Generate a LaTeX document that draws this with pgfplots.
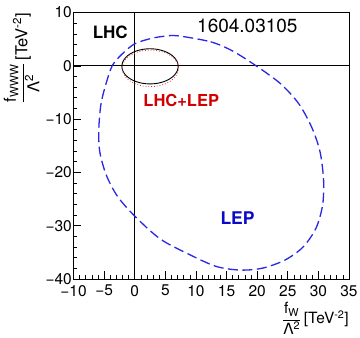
\documentclass[border=0pt]{standalone}
\usepackage{pgfplots}
\pgfplotsset{compat=1.18}
\usepackage{fontspec}
\setmainfont{TeX Gyre Heros}
\definecolor{lepblue}{RGB}{40,40,228}
\definecolor{leptext}{RGB}{10,10,200}
\definecolor{combred}{RGB}{210,0,0}
\begin{document}
\begin{tikzpicture}[x=1pt,y=1pt]
\useasboundingbox (0,0) rectangle (360,338);
\begin{axis}[
  at={(73.5pt,59pt)}, anchor=south west,
  scale only axis, width=275.5pt, height=266.5pt,
  xmin=-10, xmax=35, ymin=-40, ymax=10,
  axis line style={line width=0.9pt},
  tick align=inside, xtick pos=left, ytick pos=left,
  xtick={-10,-5,0,5,10,15,20,25,30,35},
  xticklabels={−10,−5,0,5,10,15,20,25,30,35},
  ytick={-40,-30,-20,-10,0,10},
  yticklabels={−40,−30,−20,−10,0,10},
  minor x tick num=4, minor y tick num=4,
  major tick length=8pt, minor tick length=4pt,
  tick style={black, line width=0.6pt},
  ticklabel style={font=\fontsize{15.5}{15.5}\selectfont},
  xticklabel style={inner sep=0pt, yshift=-6pt},
  yticklabel style={inner sep=0pt, xshift=-1.5pt},
  xlabel={$\displaystyle\frac{\hbox{f\textsubscript{W}}}{\hbox{Λ\textsuperscript{2}}}$\,[TeV\textsuperscript{-2}]},
  xlabel style={at={(rel axis cs:1,-0.148)}, anchor=east, inner sep=0pt,
    font=\fontsize{15.5}{15.5}\selectfont},
  ylabel={$\displaystyle\frac{\hbox{f\textsubscript{WWW}}}{\hbox{Λ\textsuperscript{2}}}$\,[TeV\textsuperscript{-2}]},
  ylabel style={at={(rel axis cs:-0.1887,1)}, anchor=east, inner sep=0pt,
    font=\fontsize{16.5}{16.5}\selectfont},
]
% zero lines
\addplot[black, line width=0.7pt] coordinates {(0,-40) (0,10)};
\addplot[black, line width=0.7pt] coordinates {(-10,0) (35,0)};

% LEP contour
\addplot[lepblue, line width=1.3pt, dash pattern=on 10pt off 4.5pt, smooth cycle] coordinates {
 (7.0,5.63) (12.41,4.50) (16.02,2.76) (20.07,-0.19) (23.89,-3.43) (26.84,-7.19)
 (28.97,-11.69) (30.28,-16.19) (30.85,-21.44) (30.69,-26.14) (29.62,-30.45)
 (27.49,-34.01) (24.54,-36.45) (20.93,-37.95) (17.33,-38.33) (13.39,-37.67)
 (9.13,-35.52) (4.21,-32.52) (0,-28.2) (-2.84,-24.45) (-4.64,-20.51)
 (-5.70,-16.19) (-5.87,-12.06) (-5.54,-7.37) (-4.80,-3.81) (-3.66,0.04)
 (-2.02,2.25) (0,4.13) (2.57,5.10) (4.70,5.53)
};

% LHC contour
\addplot[black, line width=0.9pt, smooth cycle] coordinates {
 (7.1,-0.1) (6.943,0.754) (6.484,1.55) (5.752,2.233) (4.8,2.758) (3.691,3.088)
 (2.5,3.2) (1.309,3.088) (0.2,2.758) (-0.752,2.233) (-1.484,1.55) (-1.943,0.754)
 (-2.1,-0.1) (-1.943,-0.954) (-1.484,-1.75) (-0.752,-2.433) (0.2,-2.958) (1.309,-3.288)
 (2.5,-3.4) (3.691,-3.288) (4.8,-2.958) (5.752,-2.433) (6.484,-1.75) (6.943,-0.954)
};

% LHC+LEP contour
\addplot[combred!80, line width=0.8pt, dotted, smooth cycle] coordinates {
 (7.15,-0.45) (6.99,0.43) (6.53,1.25) (5.80,1.95) (4.85,2.49) (3.74,2.83)
 (2.55,2.95) (1.36,2.83) (0.25,2.49) (-0.70,1.95) (-1.43,1.25) (-1.89,0.43)
 (-2.05,-0.45) (-1.89,-1.35) (-1.43,-2.18) (-0.70,-2.89) (0.25,-3.45) (1.36,-3.79)
 (2.55,-3.91) (3.74,-3.79) (4.85,-3.45) (5.80,-2.89) (6.53,-2.18) (6.99,-1.35)
};

\node[font=\bfseries\fontsize{17}{17}\selectfont] at (axis cs:-4.0,6.2) {LHC};
\node[font=\fontsize{19}{19}\selectfont] at (axis cs:18.4,7.45) {1604.03105};
\node[font=\bfseries\fontsize{16.5}{16.5}\selectfont, text=combred] at (axis cs:7.6,-6.6) {LHC+LEP};
\node[font=\bfseries\fontsize{17.5}{17.5}\selectfont, text=leptext] at (axis cs:16.8,-28.6) {LEP};
\end{axis}
\end{tikzpicture}
\end{document}
